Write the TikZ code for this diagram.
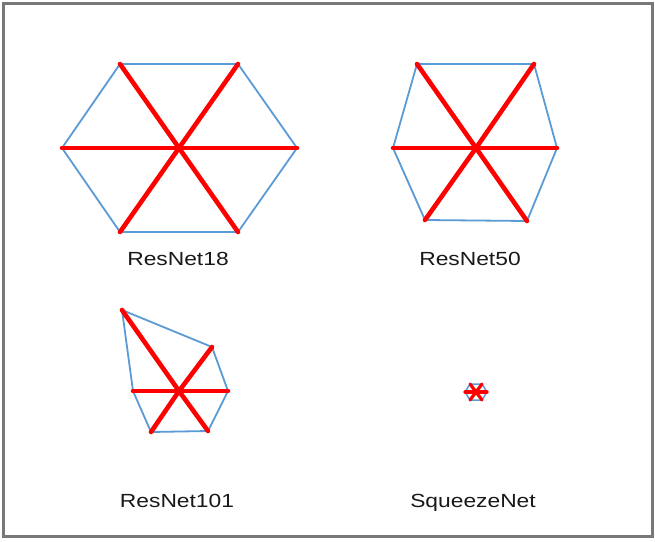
\documentclass[tikz,border=0pt]{standalone}
\usepackage{fontspec}
\setmainfont{Liberation Sans}
\begin{document}
\begin{tikzpicture}[x=1pt,y=-1pt,
  outline/.style={draw={rgb,255:red,91;green,155;blue,213},line width=1.8pt,line join=round},
  spoke/.style={draw=red,line width=4.6pt,line cap=round},
  smallspoke/.style={draw=red,line width=3.2pt,line cap=round},
  lbl/.style={anchor=base,inner sep=0pt,font=\fontsize{19}{21}\selectfont,xscale=1.2,text={rgb,255:red,25;green,25;blue,25}}]
\useasboundingbox (0,0) rectangle (655,541);
\fill[white] (0,0) rectangle (655,541);
\draw[line width=3pt,draw={rgb,255:red,120;green,120;blue,120}] (3,3) rectangle (652,536);

% ResNet18
\coordinate (a0) at (179,148);
\coordinate (a1) at (120,64);
\coordinate (a2) at (238,64);
\coordinate (a3) at (297,148);
\coordinate (a4) at (238,232);
\coordinate (a5) at (120,232);
\coordinate (a6) at (62,148);
\draw[outline] (a1)--(a2)--(a3)--(a4)--(a5)--(a6)--cycle;
\foreach \i in {1,...,6} \draw[spoke] (a0)--(a\i);
\node[lbl] (l18) at (178,265) {ResNet18};

% ResNet50
\coordinate (b0) at (476,148);
\coordinate (b1) at (417,64);
\coordinate (b2) at (534,64);
\coordinate (b3) at (557,148);
\coordinate (b4) at (527,221);
\coordinate (b5) at (425,220);
\coordinate (b6) at (393,148);
\draw[outline] (b1)--(b2)--(b3)--(b4)--(b5)--(b6)--cycle;
\foreach \i in {1,...,6} \draw[spoke] (b0)--(b\i);
\node[lbl] (l50) at (470,265) {ResNet50};

% ResNet101
\coordinate (c0) at (179,391);
\coordinate (c1) at (122,310);
\coordinate (c2) at (212,347);
\coordinate (c3) at (228,391);
\coordinate (c4) at (208,431);
\coordinate (c5) at (151,432);
\coordinate (c6) at (133,391);
\draw[outline] (c1)--(c2)--(c3)--(c4)--(c5)--(c6)--cycle;
\foreach \i in {1,...,6} \draw[spoke] (c0)--(c\i);
\node[lbl] (l101) at (177,507) {ResNet101};

% SqueezeNet
\coordinate (d0) at (476,392);
\coordinate (d1) at (470,384);
\coordinate (d2) at (482,384);
\coordinate (d3) at (487,392);
\coordinate (d4) at (482,400);
\coordinate (d5) at (470,400);
\coordinate (d6) at (465,392);
\draw[outline,line width=1.5pt] (d1)--(d2)--(d3)--(d4)--(d5)--(d6)--cycle;
\foreach \i in {1,...,6} \draw[smallspoke] (d0)--(d\i);
\node[lbl] (lsq) at (473,507) {SqueezeNet};
\end{tikzpicture}
\end{document}
